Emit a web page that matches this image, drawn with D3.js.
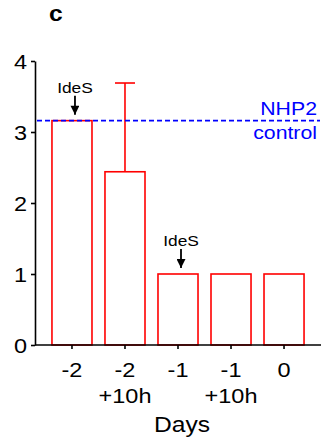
<!DOCTYPE html>
<html>
<head>
<meta charset="utf-8">
<script src="https://cdn.jsdelivr.net/npm/d3@7"></script>
<style>
  html, body { margin: 0; padding: 0; background: #fff; }
  svg { display: block; font-family: "Liberation Sans", Arial, sans-serif; }
</style>
</head>
<body>
<svg id="chart" width="334" height="444"></svg>
<script>
// Relative levels over time after IdeS treatment
const categories = ["-2", "-2\n+10h", "-1", "-1\n+10h", "0"];
const values = [3.16, 2.44, 1, 1, 1];
const errorUpper = [null, 3.69, null, null, null];
const yTicks = [0, 1, 2, 3, 4];
const controlLevel = 3.16;
const doseAt = ["-2", "-1"];   // IdeS administered at these time points

const svg = d3.select("#chart");
const plotLeft = 35, plotRight = 321, plotTop = 61, plotBottom = 345;
const stretch = 1.12;   // glyphs are set slightly wide

// Place a text at (px, py), widened horizontally about its anchor
function wideText(sel, px, py) {
  return sel.attr("x", 0).attr("y", 0)
    .attr("transform", `translate(${px},${py}) scale(${stretch},1)`);
}

const x = d3.scaleBand()
  .domain(categories)
  .range([plotLeft, plotRight])
  .paddingInner(0.245)
  .paddingOuter(0.32);

const y = d3.scaleLinear().domain([0, 4]).range([plotBottom, plotTop]);

// Panel letter
wideText(svg.append("text"), 49, 21)
  .attr("font-size", 22).attr("font-weight", "bold")
  .text("c");

// Bars
svg.append("g").selectAll("rect")
  .data(categories)
  .join("rect")
  .attr("x", d => x(d))
  .attr("width", x.bandwidth())
  .attr("y", (d, i) => y(values[i]))
  .attr("height", (d, i) => y(0) - y(values[i]))
  .attr("fill", "none")
  .attr("stroke", "#ff0000")
  .attr("stroke-width", 1.6);

// Upper error bars
const errG = svg.append("g").attr("stroke", "#ff0000").attr("stroke-width", 1.6);
categories.forEach((c, i) => {
  if (errorUpper[i] == null) return;
  const cx = x(c) + x.bandwidth() / 2;
  errG.append("line").attr("x1", cx).attr("x2", cx)
    .attr("y1", y(values[i])).attr("y2", y(errorUpper[i]));
  errG.append("line").attr("x1", cx - 10).attr("x2", cx + 10)
    .attr("y1", y(errorUpper[i])).attr("y2", y(errorUpper[i]));
});

// Control reference line
svg.append("line")
  .attr("x1", plotLeft + 2).attr("x2", plotRight - 1)
  .attr("y1", y(controlLevel)).attr("y2", y(controlLevel))
  .attr("stroke", "#0000ff").attr("stroke-width", 1.6)
  .attr("stroke-dasharray", "5,3");
wideText(svg.append("text"), 317, y(controlLevel) - 6)
  .attr("text-anchor", "end").attr("fill", "#0000ff").attr("font-size", 19)
  .text("NHP2");
wideText(svg.append("text"), 317, y(controlLevel) + 18)
  .attr("text-anchor", "end").attr("fill", "#0000ff").attr("font-size", 19)
  .text("control");

// IdeS dosing markers
svg.append("defs").append("marker")
  .attr("id", "arrow").attr("viewBox", "0 0 10 10")
  .attr("refX", 10).attr("refY", 5)
  .attr("markerWidth", 10).attr("markerHeight", 9)
  .attr("markerUnits", "userSpaceOnUse")
  .attr("orient", "auto")
  .append("path").attr("d", "M0,0L10,5L0,10Z").attr("fill", "#000");

doseAt.forEach(c => {
  const i = categories.indexOf(c);
  const cx = x(c) + x.bandwidth() / 2 + 3;
  const yt = y(values[i]);
  wideText(svg.append("text"), cx, yt - 28)
    .attr("text-anchor", "middle").attr("font-size", 15.5)
    .text("IdeS");
  svg.append("line")
    .attr("x1", cx).attr("x2", cx)
    .attr("y1", yt - 25).attr("y2", yt - 6)
    .attr("stroke", "#000").attr("stroke-width", 1.8)
    .attr("marker-end", "url(#arrow)");
});

// Y axis
const yAxis = svg.append("g")
  .attr("transform", `translate(${plotLeft},0)`)
  .call(d3.axisLeft(y).tickValues(yTicks).tickFormat(d3.format("d"))
    .tickSize(4).tickSizeOuter(0).tickPadding(4));
yAxis.select(".domain").attr("stroke", "#000").attr("stroke-width", 1.6);
yAxis.selectAll(".tick line").attr("stroke", "#000").attr("stroke-width", 1.6);
yAxis.selectAll(".tick text").each(function() {
  wideText(d3.select(this), -8, 0)
    .attr("font-size", 21).attr("font-family", "Liberation Sans, Arial, sans-serif")
    .attr("fill", "#000").attr("dy", "0.36em");
});

// X axis
const xAxis = svg.append("g")
  .attr("transform", `translate(0,${plotBottom})`)
  .call(d3.axisBottom(x).tickSize(4).tickSizeOuter(0).tickPadding(6));
xAxis.select(".domain").attr("stroke", "#000").attr("stroke-width", 1.6)
  .attr("d", `M${plotLeft},0H${plotRight}`);
xAxis.selectAll(".tick line").attr("stroke", "#000").attr("stroke-width", 1.6);
xAxis.selectAll(".tick text").each(function(d) {
  const t = wideText(d3.select(this).text(""), 0, 0)
    .attr("font-size", 21).attr("font-family", "Liberation Sans, Arial, sans-serif")
    .attr("fill", "#000").attr("dy", null);
  d.split("\n").forEach((line, k) => {
    t.append("tspan").attr("x", 0).attr("y", 32 + k * 26).text(line);
  });
});

wideText(svg.append("text"), (plotLeft + plotRight) / 2 + 4, 432)
  .attr("text-anchor", "middle").attr("font-size", 22)
  .text("Days");
</script>
</body>
</html>
